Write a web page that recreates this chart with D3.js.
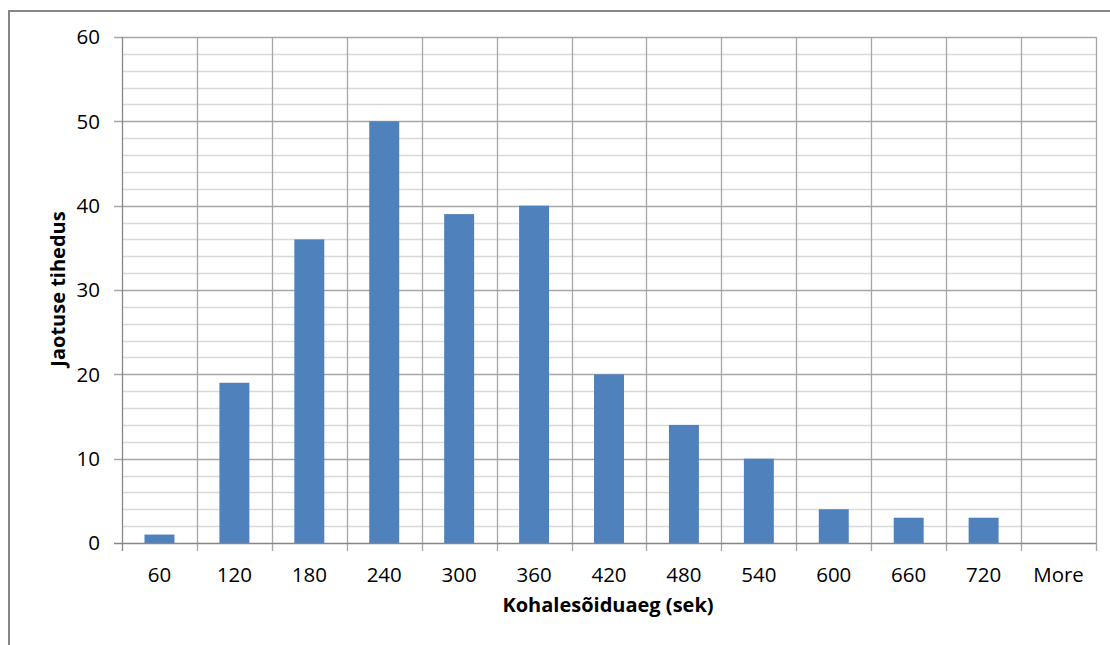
<!DOCTYPE html>
<html><head><meta charset="utf-8">
<script src="https://cdn.jsdelivr.net/npm/d3@7"></script>
<style>body{margin:0;background:#fff;} text{font-family:"Open Sans","Noto Sans",sans-serif;}</style>
</head><body>
<svg id="c" width="1110" height="645"></svg>
<script>
const categories = ["60","120","180","240","300","360","420","480","540","600","660","720","More"];
const values = [1,19,36,50,39,40,20,14,10,4,3,3,0];
const yTicks = [0,10,20,30,40,50,60];
const xTitle = "Kohalesõiduaeg (sek)";
const yTitle = "Jaotuse tihedus";

const svg = d3.select("#c");
const m = {left:122, top:37, right:1096, bottom:543};
svg.append("rect").attr("x",9).attr("y",11).attr("width",1110).attr("height",700)
  .attr("fill","#fff").attr("stroke","#868686").attr("stroke-width",2);

const x = d3.scaleBand().domain(categories).range([m.left,m.right]).paddingInner(0).paddingOuter(0);
const y = d3.scaleLinear().domain([0,60]).range([m.bottom,m.top]);

const g = svg.append("g");
// minor grid
g.selectAll(".minor").data(d3.range(0,61,2).filter(v=>v%10!==0)).join("line")
  .attr("x1",m.left).attr("x2",m.right).attr("y1",d=>Math.round(y(d))+0.5).attr("y2",d=>Math.round(y(d))+0.5)
  .attr("stroke","#d9d9d9").attr("stroke-width",1.3);
// major grid
g.selectAll(".major").data(yTicks.slice(1)).join("line")
  .attr("x1",m.left-8).attr("x2",m.right).attr("y1",d=>Math.round(y(d))+0.5).attr("y2",d=>Math.round(y(d))+0.5)
  .attr("stroke","#a6a6a6").attr("stroke-width",1.3);
// vertical category lines
const bounds = categories.map(c=>x(c)).concat([m.right]);
g.selectAll(".vl").data(bounds.slice(1)).join("line")
  .attr("x1",d=>Math.round(d)+0.5).attr("x2",d=>Math.round(d)+0.5).attr("y1",m.top).attr("y2",m.bottom+8)
  .attr("stroke","#a6a6a6").attr("stroke-width",1.3);

// bars
const bw = x.bandwidth()*0.4;
g.selectAll(".bar").data(values).join("rect")
  .attr("x",(d,i)=>x(categories[i])+x.bandwidth()/2-bw/2)
  .attr("width",bw)
  .attr("y",d=>y(d)).attr("height",d=>y(0)-y(d))
  .attr("fill","#4f81bd");

// axes lines
g.append("line").attr("x1",m.left+0.5).attr("x2",m.left+0.5).attr("y1",m.top).attr("y2",m.bottom+8)
  .attr("stroke","#868686").attr("stroke-width",1.3);
g.append("line").attr("x1",m.left-8).attr("x2",m.right).attr("y1",m.bottom+0.5).attr("y2",m.bottom+0.5)
  .attr("stroke","#868686").attr("stroke-width",1.3);

// y labels
g.selectAll(".yl").data(yTicks).join("text")
  .attr("x",100).attr("y",d=>y(d)).attr("dy","0.35em").attr("text-anchor","end")
  .attr("font-size",20.5).attr("fill","#000").text(d=>d);
// x labels
g.selectAll(".xl").data(categories).join("text")
  .attr("x",d=>x(d)+x.bandwidth()/2).attr("y",575).attr("dy","0.35em").attr("text-anchor","middle")
  .attr("font-size",20.5).attr("fill","#000").text(d=>d);

svg.append("text").attr("x",608).attr("y",605).attr("dy","0.35em").attr("text-anchor","middle")
  .attr("font-size",20).attr("font-weight","bold").text(xTitle);
svg.append("text").attr("transform","translate(58,289) rotate(-90)").attr("dy","0.35em").attr("text-anchor","middle")
  .attr("font-size",20).attr("font-weight","bold").text(yTitle);
</script>
</body></html>
